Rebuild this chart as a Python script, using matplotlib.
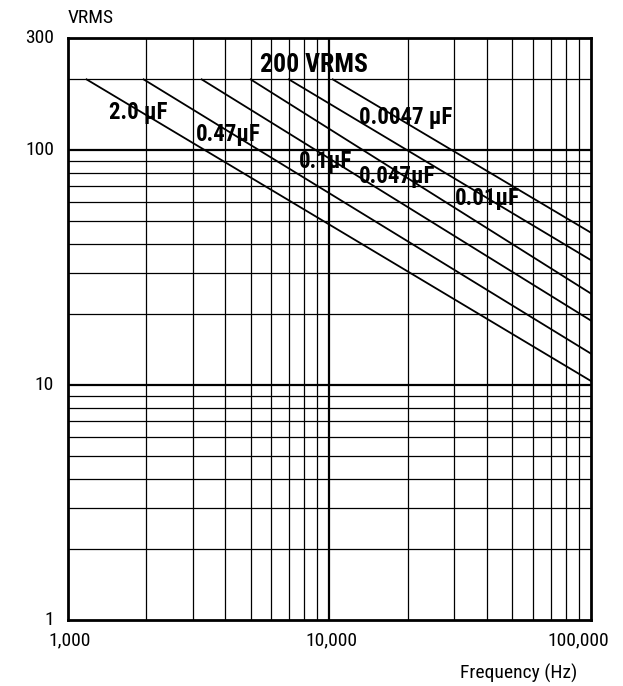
import matplotlib
matplotlib.use("Agg")
import matplotlib.pyplot as plt
from matplotlib.ticker import NullLocator

plt.rcParams['font.family'] = ['Roboto Condensed', 'DejaVu Sans']

# capacitor curves: start frequency at the 200 VRMS cap, voltage at 100 kHz
caps = ["2.0 µF", "0.47µF", "0.1µF", "0.047µF", "0.01µF", "0.0047 µF"]
start_freq = [1180, 1950, 3250, 5000, 7000, 10300]
v_limit = 200
end_freq = 100000
end_volt = [10.4, 13.6, 18.8, 24.5, 34.0, 44.5]

# label anchors (frequency, voltage)
label_freq = [1860, 4100, 9700, 18100, 40000, 19500]
label_volt = [145, 116, 89, 77, 62.5, 138]

x_ticks = [1000, 10000, 100000]
x_labels = ["1,000", "10,000", "100,000"]
y_ticks = [1, 10, 100, 300]
y_labels = ["1", "10", "100", "300"]

fig = plt.figure(figsize=(6.23, 6.86), dpi=100)
ax = fig.add_axes([0.1087, 0.0962, 0.8400, 0.8484])
ax.set_xscale("log")
ax.set_yscale("log")
ax.set_xlim(1000, 100000)
ax.set_ylim(1, 300)

# grid
for dec in [1000, 10000]:
    for m in range(1, 10):
        f = dec * m
        if f <= 1000 or f >= 100000:
            continue
        lw = 1.6 if m == 1 else 0.9
        ax.axvline(f, color="black", lw=lw, zorder=1)
for dec in [1, 10, 100]:
    for m in range(1, 10):
        v = dec * m
        if v <= 1 or v >= 300:
            continue
        lw = 1.6 if m == 1 else 0.9
        ax.axhline(v, color="black", lw=lw, zorder=1)

for f0, v1 in zip(start_freq, end_volt):
    ax.plot([f0, end_freq], [v_limit, v1], color="black", lw=1.3, zorder=3)

for name, fx, vy in zip(caps, label_freq, label_volt):
    ax.text(fx, vy, name, ha="center", va="center", fontsize=16.5,
            fontweight="bold", zorder=4)
ax.text(8735, 230, "200 VRMS", ha="center", va="center", fontsize=18.5,
        fontweight="bold", zorder=4)

ax.xaxis.set_major_locator(NullLocator())
ax.xaxis.set_minor_locator(NullLocator())
ax.yaxis.set_major_locator(NullLocator())
ax.yaxis.set_minor_locator(NullLocator())
for s in ax.spines.values():
    s.set_linewidth(2)

tr_x = ax.get_xaxis_transform()
tr_y = ax.get_yaxis_transform()
for i, (t, lab) in enumerate(zip(x_ticks, x_labels)):
    ha = "right" if i == len(x_ticks) - 1 else "center"
    xx = t * 1.17 if i == len(x_ticks) - 1 else t * 1.02
    ax.text(xx, -0.02, lab, transform=tr_x, ha=ha, va="top", fontsize=14)
for t, lab in zip(y_ticks, y_labels):
    ax.text(-0.026, t, lab, transform=tr_y, ha="right", va="center",
            fontsize=14)

fig.text(68 / 623, 1 - 18 / 686, "VRMS", ha="left", va="center", fontsize=14)
fig.text(519 / 623, 1 - 673 / 686, "Frequency (Hz)", ha="center", va="center",
         fontsize=14)

fig.savefig("out.png", dpi=100)
